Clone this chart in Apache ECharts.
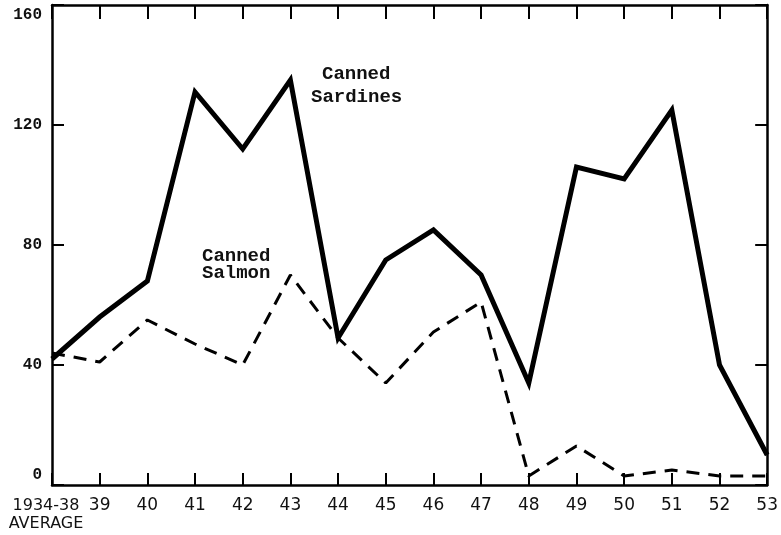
<!DOCTYPE html>
<html>
<head>
<meta charset="utf-8">
<script src="https://cdn.jsdelivr.net/npm/echarts@6/dist/echarts.min.js"></script>
<style>html,body{margin:0;padding:0;background:#fff;}#c{width:781px;height:535px;}</style>
</head>
<body>
<div id="c"></div>
<script>
const categories = ['1934-38','39','40','41','42','43','44','45','46','47','48','49','50','51','52','53'];
const sardines = [42, 56, 68, 131, 112, 135, 49, 75, 85, 70, 34, 106, 102, 125, 40, 10];
const salmon   = [44, 41, 55, 47, 40, 70, 49, 34, 51, 61, 3, 13, 3, 5, 3, 3];
const yTicks = [0, 40, 80, 120, 160];

const chart = echarts.init(document.getElementById('c'));
const axisLine = {show: true, onZero: false, lineStyle: {color: '#000', width: 2.5}};
const tickStyle = {color: '#000', width: 2};
const labelFont = 'bold 19px "Liberation Mono"';
chart.setOption({
  animation: false,
  backgroundColor: '#fff',
  grid: {left: 52, right: 13, top: 5, bottom: 50},
  xAxis: [{
    type: 'category', data: categories, boundaryGap: false, position: 'bottom',
    axisLine: axisLine,
    axisTick: {show: true, inside: true, length: 12, lineStyle: tickStyle, interval: 0},
    axisLabel: {
      interval: 0, color: '#111', fontFamily: 'DejaVu Sans', fontSize: 17, margin: 12,
      lineHeight: 18,
      formatter: v => v === '1934-38' ? '{a|1934-38}\n{a|AVERAGE}' : v,
      rich: {a: {fontFamily: 'DejaVu Sans', fontSize: 16, color: '#111', lineHeight: 18, padding: [0, 12, 0, 0]}}
    },
    splitLine: {show: false}
  }, {
    type: 'category', data: categories, boundaryGap: false, position: 'top',
    axisLine: axisLine,
    axisTick: {show: true, inside: true, length: 14, lineStyle: tickStyle, interval: 0},
    axisLabel: {show: false}
  }],
  yAxis: [{
    type: 'value', min: 0, max: 160, interval: 40, position: 'left',
    axisLine: axisLine,
    axisTick: {show: true, inside: true, length: 12, lineStyle: tickStyle},
    splitLine: {show: false},
    axisLabel: {
      color: '#111', fontFamily: 'Liberation Mono', fontWeight: 'bold', fontSize: 16, margin: 10,
      formatter: v => v === 0 ? '{lo|0}' : (v === 160 ? '{hi|160}' : String(v)),
      rich: {
        lo: {fontFamily: 'Liberation Mono', fontWeight: 'bold', fontSize: 16, color: '#111', padding: [0, 0, 20, 0]},
        hi: {fontFamily: 'Liberation Mono', fontWeight: 'bold', fontSize: 16, color: '#111', padding: [20, 0, 0, 0]}
      }
    }
  }, {
    type: 'value', min: 0, max: 160, interval: 40, position: 'right',
    axisLine: axisLine,
    axisTick: {show: true, inside: true, length: 12, lineStyle: tickStyle},
    splitLine: {show: false},
    axisLabel: {show: false}
  }],
  series: [{
    name: 'Canned Sardines', type: 'line', data: sardines, symbol: 'none',
    lineStyle: {color: '#000', width: 5, join: 'miter'}
  }, {
    name: 'Canned Salmon', type: 'line', data: salmon, symbol: 'none',
    lineStyle: {color: '#000', width: 3, type: [13, 9]}
  }],
  graphic: [
    {type: 'text', left: 322, top: 65, style: {text: 'Canned', font: labelFont, fill: '#111'}},
    {type: 'text', left: 311, top: 88, style: {text: 'Sardines', font: labelFont, fill: '#111'}},
    {type: 'text', left: 202, top: 247, style: {text: 'Canned', font: labelFont, fill: '#111'}},
    {type: 'text', left: 202, top: 264, style: {text: 'Salmon', font: labelFont, fill: '#111'}}
  ]
});
</script>
</body>
</html>
